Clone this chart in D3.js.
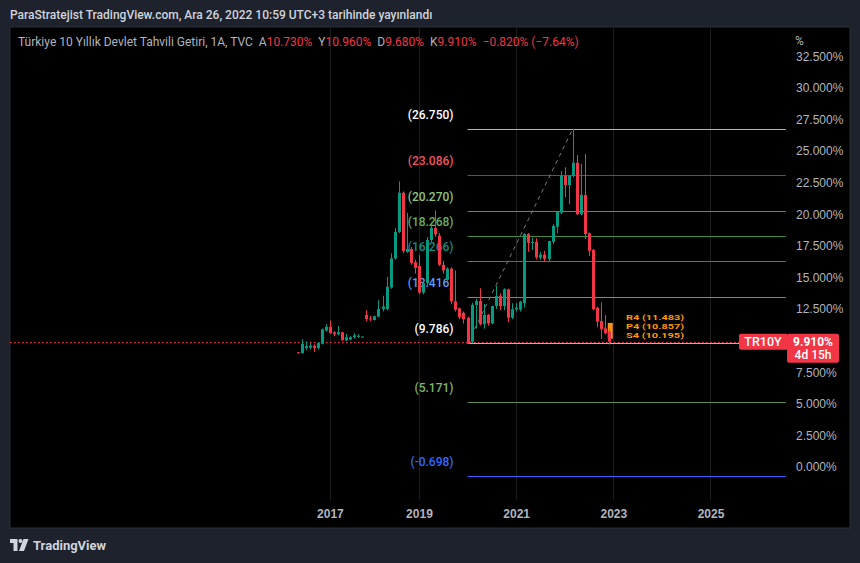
<!DOCTYPE html>
<html>
<head>
<meta charset="utf-8">
<script src="https://cdn.jsdelivr.net/npm/d3@7"></script>
<style>
body{margin:0;background:#1e222d;}
svg{display:block;font-family:Roboto, "Noto Sans", sans-serif;}
</style>
</head>
<body>
<script>
// monthly bars, TVC:TR10Y (bar index 0..77, Jan 2023 = index 78)
const opens  = [9.07,9.00,9.40,9.45,9.60,9.42,9.75,10.80,11.08,10.65,10.50,10.66,10.02,10.10,10.26,10.30,10.30,
  12.03,11.75,11.63,11.90,12.50,12.50,14.20,16.50,18.60,21.70,17.00,17.25,16.20,15.90,13.80,14.55,17.96,18.90,18.30,
  16.00,14.80,15.70,13.10,12.55,12.20,11.80,9.90,12.82,13.13,11.30,12.03,11.36,12.74,13.53,12.74,14.06,11.81,12.48,
  12.45,12.95,18.43,17.75,17.82,16.56,16.80,16.46,17.82,19.01,20.12,23.05,22.31,23.05,24.07,19.99,21.52,18.49,17.17,
  12.60,11.55,10.97,10.73];
const highs  = [9.10,10.10,9.94,9.80,9.70,9.88,10.95,11.30,11.58,10.75,11.15,10.70,10.52,10.36,10.58,10.50,10.34,
  12.40,11.95,11.97,13.20,13.55,15.05,16.90,18.90,22.60,21.80,20.10,17.40,16.40,16.77,14.60,18.20,19.10,20.30,18.50,
  16.30,15.80,15.80,15.55,12.60,12.30,11.90,13.00,13.30,14.14,12.90,12.10,12.76,14.32,13.74,14.14,14.10,12.95,12.95,
  13.15,18.50,18.50,18.12,18.10,17.03,17.10,17.90,19.20,20.25,23.42,23.71,23.10,26.75,24.68,23.97,24.76,18.55,17.25,
  12.68,13.03,12.03,10.96];
const lows   = [8.98,8.98,9.25,9.30,9.10,9.30,9.70,10.70,10.55,10.35,10.42,10.00,9.95,10.02,10.15,10.22,10.28,
  11.55,11.55,11.60,11.85,12.30,12.40,14.10,16.40,18.50,16.90,16.95,16.00,15.30,13.70,13.65,14.40,17.80,18.20,15.90,
  15.30,14.70,12.90,12.30,11.70,11.35,9.786,9.80,10.95,11.20,10.95,11.18,11.30,12.50,12.42,12.40,11.45,11.70,12.30,
  12.30,12.60,17.03,17.17,16.43,16.40,16.30,16.30,17.64,18.49,20.00,21.34,20.78,22.90,19.95,19.90,18.04,16.69,12.40,
  11.05,10.13,10.50,9.68];
const closes = [9.00,9.73,9.57,9.60,9.42,9.80,10.90,11.08,10.58,10.50,10.66,10.02,10.26,10.26,10.42,10.38,10.32,
  11.70,11.70,11.92,12.50,12.70,14.26,16.50,18.60,21.70,17.10,17.25,16.15,15.75,13.80,14.55,17.96,18.90,18.40,16.00,
  15.55,15.70,13.10,12.45,11.85,11.70,9.80,12.82,13.13,11.30,12.03,11.36,12.74,13.53,12.74,14.06,11.81,12.48,12.60,
  13.08,18.43,17.75,17.80,16.59,16.80,16.46,17.88,19.07,20.17,23.05,22.31,23.05,24.07,19.99,21.52,18.43,17.11,12.50,
  11.50,10.92,10.58,9.91];

const yearLabels = ["2017", "2019", "2021", "2023", "2025"];
const yearIndex  = [8, 30, 54, 78, 102];

// fib retracement drawn from the Jan 2020 low to the 2022 high
const fibLevels = [26.750, 23.086, 20.270, 18.268, 16.266, 13.416, 9.786, 5.171, -0.698];
const fibStart = 42, fibEnd = 120.6, fibTop = 68;
const lastPrice = 9.910;

const fibLineColor  = ["#b2b5be","#a5323c","#5e8e4c","#3f8c3c","#1f8a84","#5a8fc4","#b2b5be","#5b8a4a","#2962ff"];
const fibLabelColor = ["#ffffff","#f7525f","#8fc47d","#6cae5e","#138b80","#5b9cf6","#ffffff","#81b86e","#2f6bff"];

const width = 860, height = 563;
const green = "#089981", red = "#f23645", axisText = "#b2b5be";

const svg = d3.select("body").append("svg")
  .attr("width", width).attr("height", height);

svg.append("rect").attr("width", width).attr("height", height).attr("fill", "#1e222d");
svg.append("rect").attr("x", 10).attr("y", 27).attr("width", 840).attr("height", 501)
  .attr("fill", "#000").attr("stroke", "#2a2e39");

const x = d3.scaleLinear().domain([0, 78]).range([297.5, 613.3]);
const y = d3.scaleLinear().domain([0, 32.5]).range([467, 56.2]);

// vertical grid
svg.append("g").selectAll("line").data(yearIndex).enter().append("line")
  .attr("x1", d => Math.round(x(d)) + 0.5).attr("x2", d => Math.round(x(d)) + 0.5)
  .attr("y1", 28).attr("y2", 500)
  .attr("stroke", "#1d1d1d");

// header
svg.append("text").attr("x", 10).attr("y", 19)
  .attr("fill", "#d1d4dc").style("font-size", "12px").style("font-weight", 500)
  .text("ParaStratejist TradingView.com, Ara 26, 2022 10:59 UTC+3 tarihinde yayınlandı");

let legend = svg.append("text").attr("x", 18).attr("y", 46).style("font-size", "12px");
legend.append("tspan").attr("fill", "#b2b5be").text("Türkiye 10 Yıllık Devlet Tahvili Getiri, 1A, TVC");
[["A", "10.730%"], ["Y", "10.960%"], ["D", "9.680%"], ["K", "9.910%"]].forEach(p => {
  legend.append("tspan").attr("dx", 6).attr("fill", "#b2b5be").text(p[0]);
  legend.append("tspan").attr("fill", red).text(p[1]);
});
legend.append("tspan").attr("dx", 6).attr("fill", red).text("−0.820% (−7.64%)");

// fib lines
svg.append("g").selectAll("line").data(fibLevels).enter().append("line")
  .attr("x1", x(fibStart)).attr("x2", x(fibEnd))
  .attr("y1", d => Math.round(y(d)) + 0.5).attr("y2", d => Math.round(y(d)) + 0.5)
  .attr("stroke", (d, i) => fibLineColor[i]).attr("stroke-width", 1);

// fib labels
svg.append("g").selectAll("text").data(fibLevels).enter().append("text")
  .attr("x", x(fibStart) - 14).attr("y", d => y(d) - 10)
  .attr("text-anchor", "end").style("font-size", "12px").style("font-weight", 500)
  .attr("fill", (d, i) => fibLabelColor[i])
  .text(d => "(" + d.toFixed(3) + ")");

// trend line
svg.append("line")
  .attr("x1", x(fibStart)).attr("y1", y(9.786)).attr("x2", x(fibTop)).attr("y2", y(26.75))
  .attr("stroke", "#787b86").attr("stroke-dasharray", "4,4");

// last price dotted line
svg.append("line").attr("x1", 10).attr("x2", 740)
  .attr("y1", Math.round(y(lastPrice)) + 0.5).attr("y2", Math.round(y(lastPrice)) + 0.5)
  .attr("stroke", red).attr("stroke-dasharray", "1.5,2.5");

// pivot marker on last bar
svg.append("rect").attr("x", x(77) - 1.5).attr("y", y(11.4)).attr("width", 5)
  .attr("height", y(10.15) - y(11.4)).attr("fill", "#f7931a");

// candles
const candles = opens.map((o, i) => ({i: i, o: o, h: highs[i], l: lows[i], c: closes[i]}));
let cg = svg.append("g");
cg.selectAll("line").data(candles).enter().append("line")
  .attr("x1", d => Math.round(x(d.i)) + 0.5).attr("x2", d => Math.round(x(d.i)) + 0.5)
  .attr("y1", d => y(d.h)).attr("y2", d => y(d.l))
  .attr("stroke", d => d.c >= d.o ? green : red);
cg.selectAll("rect").data(candles).enter().append("rect")
  .attr("x", d => Math.round(x(d.i)) - 1).attr("width", 3)
  .attr("y", d => y(Math.max(d.o, d.c)))
  .attr("height", d => Math.max(1, Math.abs(y(d.o) - y(d.c))))
  .attr("fill", d => d.c >= d.o ? green : red);

// pivot labels, packed tightly next to the last bar
const pivots = [["R4 (11.483)", 11.62], ["P4 (10.857)", 10.93], ["S4 (10.195)", 10.24]];
svg.append("g").selectAll("text").data(pivots).enter().append("text")
  .attr("x", 626).attr("y", d => y(d[1]))
  .attr("textLength", 58).attr("lengthAdjust", "spacingAndGlyphs")
  .attr("fill", "#ff9800").style("font-size", "7.5px").style("font-weight", 700)
  .text(d => d[0]);

// right axis (10% hidden under the price box)
const yAxis = svg.append("g").attr("transform", "translate(796,0)")
  .call(d3.axisRight(y).tickValues(d3.range(0, 32.51, 2.5).filter(v => v !== 10))
    .tickFormat(d => d.toFixed(3) + "%").tickSize(0).tickPadding(0));
yAxis.select(".domain").remove();
yAxis.selectAll("text").attr("fill", axisText).style("font-size", "12px").style("font-family", null);
svg.append("text").attr("x", 795).attr("y", 45).attr("fill", axisText).style("font-size", "12px").text("%");

// bottom axis
const xAxis = svg.append("g").attr("transform", "translate(0,509)")
  .call(d3.axisBottom(x).tickValues(yearIndex).tickFormat((d, i) => yearLabels[i]).tickSize(0).tickPadding(0));
xAxis.select(".domain").remove();
xAxis.selectAll("text").attr("fill", axisText).style("font-size", "12px").style("font-weight", 600).style("font-family", null);

// symbol tag + price box
svg.append("path")
  .attr("d", `M741,${y(lastPrice) - 8} h46 v16 h-46 a2,2 0 0 1 -2,-2 v-12 a2,2 0 0 1 2,-2 z`)
  .attr("fill", red);
svg.append("text").attr("x", 763).attr("y", y(lastPrice) + 4.5).attr("text-anchor", "middle")
  .attr("fill", "#fff").style("font-size", "12.5px").style("font-weight", 500).text("TR10Y");
svg.append("rect").attr("x", 787).attr("y", y(lastPrice) - 8).attr("width", 52).attr("height", 29)
  .attr("rx", 2).attr("fill", red);
svg.append("text").attr("x", 813).attr("y", y(lastPrice) + 4.5).attr("text-anchor", "middle")
  .attr("fill", "#fff").style("font-size", "12px").style("font-weight", 700).text("9.910%");
svg.append("text").attr("x", 813).attr("y", y(lastPrice) + 17.5).attr("text-anchor", "middle")
  .attr("fill", "#fff").style("font-size", "12px").style("font-weight", 500).text("4d 15h");

// TradingView logo
let logo = svg.append("g").attr("fill", "#d1d4dc");
logo.append("path").attr("d", "M10,539 H17.5 V551 H13.5 V543 H10 Z");
logo.append("circle").attr("cx", 20.5).attr("cy", 541).attr("r", 2);
logo.append("path").attr("d", "M23.5,539 H28.5 L24,551 H19 Z");
svg.append("text").attr("x", 33).attr("y", 550).attr("fill", "#d1d4dc")
  .style("font-size", "13px").style("font-weight", 700).text("TradingView");
</script>
</body>
</html>
